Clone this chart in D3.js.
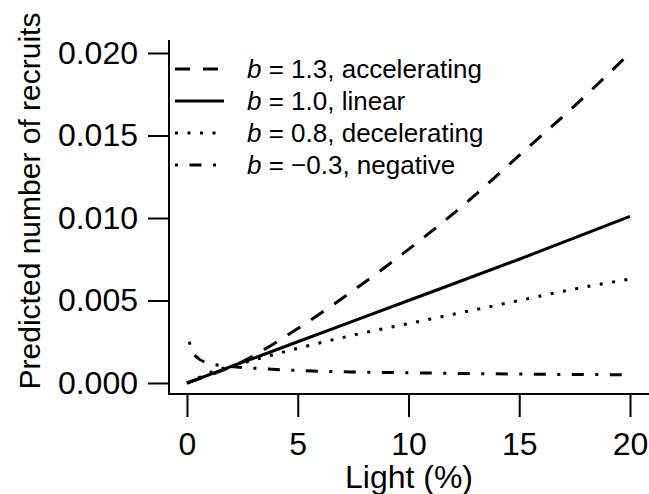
<!DOCTYPE html>
<html>
<head>
<meta charset="utf-8">
<script src="https://cdn.jsdelivr.net/npm/d3@7"></script>
<style>
  body { margin: 0; background: #fff; }
  text { font-family: "Liberation Sans", Arial, sans-serif; fill: #000; }
</style>
</head>
<body>
<div id="chart"></div>
<script>
// values
var lightAcc = [0, 2.5, 5, 7.5, 10, 12.5, 15, 17.5, 20];
var recruitsAcc = [0, 0.0013, 0.0033, 0.0056, 0.0081, 0.0108, 0.0138, 0.0168, 0.0200];

var lightLin = [0, 5, 10, 15, 20];
var recruitsLin = [0, 0.0025, 0.0050, 0.0075, 0.0101];

var lightDec = [0, 0.5, 1, 2.5, 5, 7.5, 10, 12.5, 15, 17.5, 20];
var recruitsDec = [0, 0.0003, 0.0006, 0.0012, 0.0021, 0.0029, 0.0036, 0.0043, 0.0050, 0.0057, 0.0063];

var lightNeg = [0.1, 0.25, 0.5, 1, 2, 3, 5, 7.5, 10, 15, 20];
var recruitsNeg = [0.0025, 0.0019, 0.0015, 0.0012, 0.0010, 0.0009, 0.00076, 0.00067, 0.00062, 0.00054, 0.0005];

var legendLabels = ["1.3, accelerating", "1.0, linear", "0.8, decelerating", "\u22120.3, negative"];
var xTicks = [0, 5, 10, 15, 20];
var yTicks = [0, 0.005, 0.010, 0.015, 0.020];

var svgWidth = 649;
var svgHeight = 494;

var svg = d3.select("#chart")
  .append("svg")
  .attr("width", svgWidth)
  .attr("height", svgHeight);

var x = d3.scaleLinear().domain([0, 20]).range([187, 630]);
var y = d3.scaleLinear().domain([0, 0.02]).range([383, 53]);

// L-shaped box
svg.append("path")
  .attr("d", "M169,40V394H649")
  .attr("fill", "none")
  .attr("stroke", "#000")
  .attr("stroke-width", 2);

var bottomAxis = d3.axisBottom(x).tickValues(xTicks).tickSize(22).tickPadding(15).tickFormat(d3.format("d"));
var leftAxis = d3.axisLeft(y).tickValues(yTicks).tickSize(21).tickPadding(10).tickFormat(d3.format(".3f"));

var gx = svg.append("g")
  .attr("transform", "translate(0,395)")
  .call(bottomAxis);
var gy = svg.append("g")
  .attr("transform", "translate(169,0)")
  .call(leftAxis);

[gx, gy].forEach(function(g) {
  g.select(".domain").remove();
  g.selectAll(".tick line").attr("stroke", "#000").attr("stroke-width", 2);
  g.selectAll(".tick text")
    .attr("fill", "#000")
    .style("font-family", "'Liberation Sans', Arial, sans-serif")
    .style("font-size", "32px");
});

// axis titles
svg.append("text")
  .attr("x", 409)
  .attr("y", 488)
  .attr("text-anchor", "middle")
  .style("font-size", "32px")
  .text("Light (%)");

svg.append("text")
  .attr("transform", "translate(40,201) rotate(-90)")
  .attr("text-anchor", "middle")
  .style("font-size", "30px")
  .text("Predicted number of recruits");

// curves
var series = [
  { xs: lightAcc, ys: recruitsAcc, dash: "15,13" },
  { xs: lightLin, ys: recruitsLin, dash: null },
  { xs: lightDec, ys: recruitsDec, dash: "3,9.5" },
  { xs: lightNeg, ys: recruitsNeg, dash: "3,11.5,12,11.5" }
];

var line = d3.line()
  .x(function(d) { return x(d[0]); })
  .y(function(d) { return y(d[1]); })
  .curve(d3.curveMonotoneX);

series.forEach(function(s) {
  var pts = s.xs.map(function(v, i) { return [v, s.ys[i]]; });
  svg.append("path")
    .attr("d", line(pts))
    .attr("fill", "none")
    .attr("stroke", "#000")
    .attr("stroke-width", 3)
    .attr("stroke-dasharray", s.dash);
});

// legend
var legend = svg.append("g");
series.forEach(function(s, i) {
  var ly = 69 + i * 32;
  legend.append("line")
    .attr("x1", 175).attr("x2", 224)
    .attr("y1", ly).attr("y2", ly)
    .attr("stroke", "#000")
    .attr("stroke-width", 3)
    .attr("stroke-dasharray", s.dash);
  var t = legend.append("text")
    .attr("x", 247)
    .attr("y", ly)
    .attr("dy", "0.36em")
    .style("font-size", "26px");
  t.append("tspan").style("font-style", "italic").text("b");
  t.append("tspan").text(" = " + legendLabels[i]);
});
</script>
</body>
</html>
